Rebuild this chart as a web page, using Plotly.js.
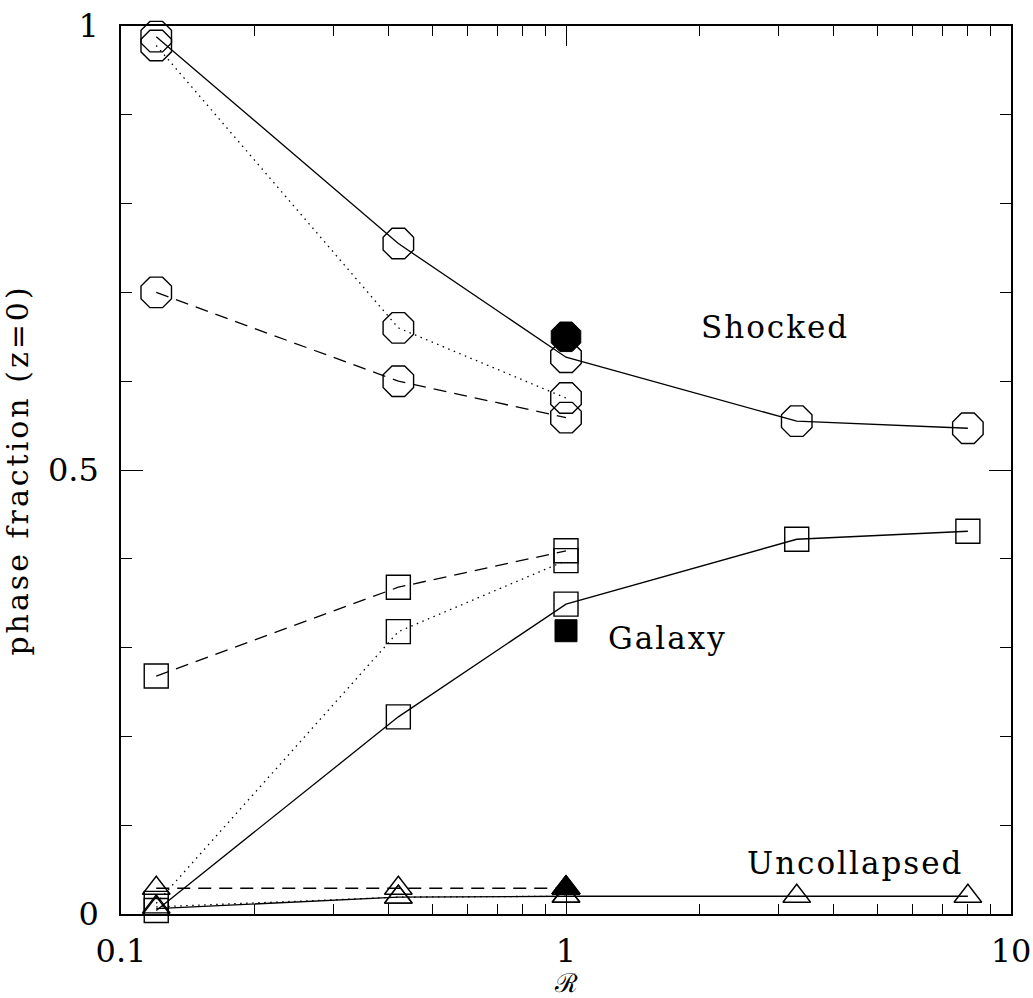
<!DOCTYPE html>
<html>
<head>
<meta charset="utf-8">
<script src="https://cdn.plot.ly/plotly-3.0.1.min.js"></script>
<style>
  html, body { margin: 0; padding: 0; background: #fff; }
  #chart { width: 1033px; height: 998px; }
  .ytitle { letter-spacing: 3px; }
  .annotation-text { letter-spacing: 2px; }
</style>
</head>
<body>
<div id="chart"></div>
<script>
// ---- Data ----
const R5 = [0.12, 0.42, 1, 3.3, 8];      // runs with 5 points (solid)
const R3 = [0.12, 0.42, 1];              // runs with 3 points (dotted, dashed)
const R1 = [1];                          // single filled-marker run

const shockedSolid   = [0.988, 0.755, 0.627, 0.555, 0.547];
const galaxySolid    = [0.004, 0.222, 0.349, 0.422, 0.431];
const uncollSolid    = [0.006, 0.019, 0.020, 0.020, 0.020];

const shockedDotted  = [0.978, 0.660, 0.581];
const galaxyDotted   = [0.012, 0.318, 0.398];
const uncollDotted   = [0.008, 0.019, 0.020];

const shockedDashed  = [0.700, 0.600, 0.559];
const galaxyDashed   = [0.268, 0.368, 0.409];
const uncollDashed   = [0.029, 0.029, 0.029];

const shockedFilled  = [0.650];
const galaxyFilled   = [0.319];
const uncollFilled   = [0.030];

const xTickVals  = [0.1, 1, 10];
const xTickText  = ['0.1', '1', '10'];
const xMinorVals = [0.2,0.3,0.4,0.5,0.6,0.7,0.8,0.9,2,3,4,5,6,7,8,9];
const yTickVals  = [0, 0.5, 1];
const yTickText  = ['0', '0.5', '1'];

const phaseLabels = ['Shocked', 'Galaxy', 'Uncollapsed'];

// ---- Styles ----
const FONT = 'DejaVu Serif';
const INK = '#000';
const DASH = {solid: 'solid', dotted: '1.5px,4.5px', dashed: '13px,8px'};
const SYM = {shocked: 'octagon', galaxy: 'square', uncoll: 'triangle-up'};
const SIZE = {shocked: 33, galaxy: 24, uncoll: 24};

function lineTrace(x, y, phase, style) {
  return {
    x: x, y: y, type: 'scatter', mode: 'lines+markers',
    line: {color: INK, width: 1.3, dash: DASH[style]},
    marker: {symbol: SYM[phase] + '-open', size: SIZE[phase],
             color: INK, line: {color: INK, width: 1.4}},
    hoverinfo: 'x+y', showlegend: false, cliponaxis: false
  };
}
function filledTrace(x, y, phase, size) {
  return {
    x: x, y: y, type: 'scatter', mode: 'markers',
    marker: {symbol: SYM[phase], size: size, color: INK, line: {color: INK, width: 1}},
    hoverinfo: 'x+y', showlegend: false, cliponaxis: false
  };
}

const traces = [
  lineTrace(R5, shockedSolid, 'shocked', 'solid'),
  lineTrace(R5, galaxySolid, 'galaxy', 'solid'),
  lineTrace(R5, uncollSolid, 'uncoll', 'solid'),
  lineTrace(R3, shockedDotted, 'shocked', 'dotted'),
  lineTrace(R3, galaxyDotted, 'galaxy', 'dotted'),
  lineTrace(R3, uncollDotted, 'uncoll', 'dotted'),
  lineTrace(R3, shockedDashed, 'shocked', 'dashed'),
  lineTrace(R3, galaxyDashed, 'galaxy', 'dashed'),
  lineTrace(R3, uncollDashed, 'uncoll', 'dashed'),
  filledTrace(R1, shockedFilled, 'shocked', 32),
  filledTrace(R1, galaxyFilled, 'galaxy', 22),
  filledTrace(R1, uncollFilled, 'uncoll', 25)
];

// label anchor positions (x in log10 units for the log axis)
const labelPos = [
  {x: 0.47, y: 0.661},
  {x: 0.229, y: 0.311},
  {x: 0.649, y: 0.057}
];

const annotations = phaseLabels.map((t, i) => ({
  text: t, x: labelPos[i].x, y: labelPos[i].y, xref: 'x', yref: 'y',
  showarrow: false, xanchor: 'center', yanchor: 'middle',
  font: {family: FONT, size: 31, color: INK}
}));

const axisCommon = {
  showline: true, linecolor: INK, linewidth: 1.5, mirror: 'allticks',
  ticks: 'inside', tickcolor: INK, tickwidth: 1.3,
  showgrid: false, zeroline: false, automargin: false,
  tickfont: {family: FONT, size: 32, color: INK}
};

const layout = {
  width: 1033, height: 998,
  margin: {l: 121, r: 22, t: 26, b: 84},
  paper_bgcolor: '#fff', plot_bgcolor: '#fff',
  showlegend: false,
  xaxis: Object.assign({}, axisCommon, {
    type: 'log', range: [-1, 1],
    tickmode: 'array', tickvals: xTickVals, ticktext: xTickText,
    ticklen: 20, ticklabelstandoff: 8,
    minor: {tickmode: 'array', tickvals: xMinorVals, ticks: 'inside',
            ticklen: 10, tickcolor: INK, tickwidth: 1.3, showgrid: false},
    title: {text: 'ℛ', font: {family: FONT, size: 26, color: INK}, standoff: 16}
  }),
  yaxis: Object.assign({}, axisCommon, {
    range: [0, 1],
    tickmode: 'array', tickvals: yTickVals, ticktext: yTickText,
    ticklen: 22, ticklabelstandoff: 14,
    minor: {dtick: 0.1, tick0: 0, ticks: 'inside', ticklen: 11,
            tickcolor: INK, tickwidth: 1.3, showgrid: false},
    title: {text: 'phase fraction (z=0)', font: {family: FONT, size: 30, color: INK}, standoff: 10}
  }),
  annotations: annotations
};

Plotly.newPlot('chart', traces, layout, {displayModeBar: false, responsive: false});
</script>
</body>
</html>
